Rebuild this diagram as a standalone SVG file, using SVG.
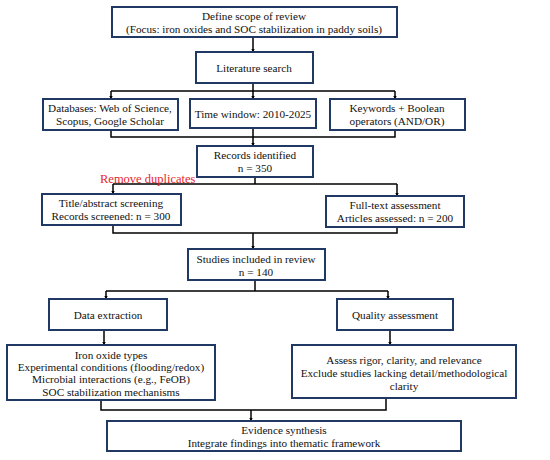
<svg xmlns="http://www.w3.org/2000/svg" width="550" height="460" viewBox="0 0 550 460">
<defs>
<marker id="ah" viewBox="0 0 10 10" refX="9" refY="5" markerWidth="3.6" markerHeight="3.6" orient="auto" markerUnits="userSpaceOnUse">
<path d="M0,0 L10,5 L0,10 z" fill="#000"/>
</marker>
</defs>
<style>
.box{fill:#fff;stroke:#1f3864;stroke-width:2}
.t{font-family:"Liberation Serif","Times New Roman",serif;font-size:11.2px;fill:#111;text-anchor:middle}
.c{fill:none;stroke:#000;stroke-width:1.5}
.a{fill:none;stroke:#000;stroke-width:1.5;marker-end:url(#ah)}
.red{font-family:"Liberation Serif","Times New Roman",serif;font-size:12.5px;fill:#e8262b}
</style>
<rect width="550" height="460" fill="#fff"/>
<g id="connectors">
<path class="a" d="M253,37 V52"/>
<path class="c" d="M253,83 V91 M111,91 H395"/>
<path class="a" d="M111,91 V99"/>
<path class="a" d="M253,91 V99"/>
<path class="a" d="M395,91 V99"/>
<path class="c" d="M111,130 V137 H395 V130 M253,128 V137"/>
<path class="a" d="M253,137 V146"/>
<path class="c" d="M255,177 V184 M113,184 H397"/>
<path class="a" d="M113,184 V194"/>
<path class="a" d="M397,184 V196"/>
<path class="c" d="M113,225 V233 H397 V227"/>
<path class="a" d="M253,233 V249"/>
<path class="c" d="M255,280 V291 M106,291 H388"/>
<path class="a" d="M106,291 V299"/>
<path class="a" d="M388,291 V299"/>
<path class="a" d="M104,330 V345"/>
<path class="a" d="M390,330 V345"/>
<path class="c" d="M101,400 V410 H386 V398"/>
<path class="a" d="M251,410 V421"/>
</g>
<g id="n1"><rect class="box" x="112" y="7" width="285" height="30"/>
<text class="t" x="254" y="20">Define scope of review</text>
<text class="t" x="254" y="33">(Focus: iron oxides and SOC stabilization in paddy soils)</text></g>
<g id="n2"><rect class="box" x="196" y="52" width="117" height="31"/>
<text class="t" x="254" y="72">Literature search</text></g>
<g id="n3a"><rect class="box" x="43" y="99" width="135" height="31"/>
<text class="t" x="110" y="112">Databases: Web of Science,</text>
<text class="t" x="110" y="125">Scopus, Google Scholar</text></g>
<g id="n3b"><rect class="box" x="190" y="99" width="126" height="29"/>
<text class="t" x="253" y="118">Time window: 2010-2025</text></g>
<g id="n3c"><rect class="box" x="330" y="99" width="135" height="31"/>
<text class="t" x="397" y="112">Keywords + Boolean</text>
<text class="t" x="397" y="125">operators (AND/OR)</text></g>
<g id="n4"><rect class="box" x="197" y="146" width="116" height="31"/>
<text class="t" x="255" y="159">Records identified</text>
<text class="t" x="255" y="172">n = 350</text></g>
<text class="red" x="100" y="183">Remove duplicates</text>
<g id="n5a"><rect class="box" x="42" y="194" width="139" height="31"/>
<text class="t" x="111" y="207">Title/abstract screening</text>
<text class="t" x="111" y="220">Records screened: n = 300</text></g>
<g id="n5b"><rect class="box" x="326" y="196" width="138" height="31"/>
<text class="t" x="395" y="209">Full-text assessment</text>
<text class="t" x="395" y="222">Articles assessed: n = 200</text></g>
<g id="n6"><rect class="box" x="188" y="249" width="137" height="31"/>
<text class="t" x="256" y="263">Studies included in review</text>
<text class="t" x="256" y="276">n = 140</text></g>
<g id="n7a"><rect class="box" x="49" y="299" width="118" height="31"/>
<text class="t" x="108" y="319">Data extraction</text></g>
<g id="n7b"><rect class="box" x="337" y="299" width="116" height="31"/>
<text class="t" x="395" y="319">Quality assessment</text></g>
<g id="n8a"><rect class="box" x="7" y="345" width="208" height="55"/>
<text class="t" x="111" y="359">Iron oxide types</text>
<text class="t" x="111" y="371">Experimental conditions (flooding/redox)</text>
<text class="t" x="111" y="383">Microbial interactions (e.g., FeOB)</text>
<text class="t" x="111" y="396">SOC stabilization mechanisms</text></g>
<g id="n8b"><rect class="box" x="292" y="345" width="224" height="53"/>
<text class="t" x="404" y="364">Assess rigor, clarity, and relevance</text>
<text class="t" x="404" y="377">Exclude studies lacking detail/methodological</text>
<text class="t" x="404" y="390">clarity</text></g>
<g id="n9"><rect class="box" x="107" y="421" width="354" height="30"/>
<text class="t" x="284" y="434">Evidence synthesis</text>
<text class="t" x="284" y="447">Integrate findings into thematic framework</text></g>
</svg>
